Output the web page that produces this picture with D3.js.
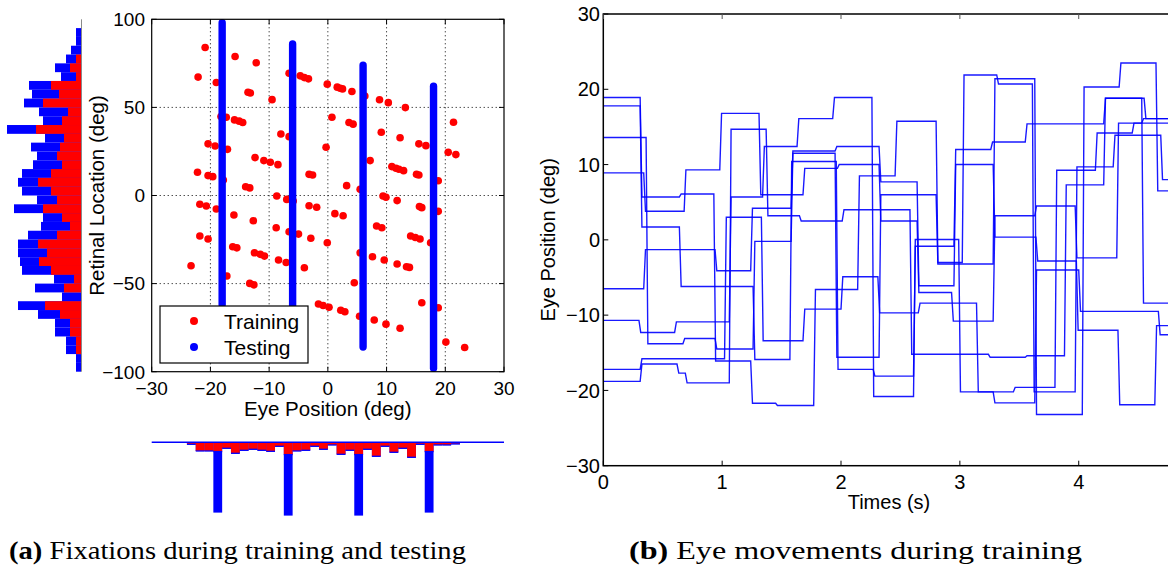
<!DOCTYPE html>
<html><head><meta charset="utf-8">
<script src="https://cdn.jsdelivr.net/npm/d3@7"></script>
<style>body{margin:0;background:#fff}svg{display:block}</style>
</head><body>
<svg id="c" width="1168" height="567"></svg>
<script>
// ---------- (a) scatter: training fixations ----------
const trainX = [-20.9,-15.8,-12.2,-22.1,-19.0,-13.6,-13.2,-9.5,-6.6,-4.7,-4.0,-3.3,-0.1,1.6,2.1,2.5,4.1,6.3,8.8,10.3,13.2,-18.2,-17.3,-15.9,-15.1,-14.5,0.7,3.6,4.3,21.4,-8.0,-6.6,9.1,12.3,-20.4,-19.2,-17.1,-0.3,15.5,16.7,20.5,21.8,-12.4,-10.9,-9.8,-8.5,7.2,10.9,11.6,12.1,12.9,-22.2,-20.4,-19.6,-17.8,-3.2,-2.6,15.1,15.5,18.8,-14.0,-13.3,3.2,5.5,-8.7,-7.0,-5.9,9.4,9.9,11.8,-21.8,-20.7,-19.0,-3.2,-1.9,15.6,16.0,18.8,1.2,2.6,-16.0,-12.7,-8.8,-6.6,-5.0,-2.9,-0.1,8.3,9.2,-21.8,-20.4,-16.2,-15.5,-12.5,-11.5,-10.8,-8.4,-7.1,-4.0,5.5,7.6,9.6,11.8,13.4,13.9,14.1,14.9,15.7,17.5,-23.3,-17.2,-13.3,-12.6,4.5,-1.6,-0.8,0.2,2.2,2.9,5.4,7.9,9.9,12.3,16.0,18.8,20.1,23.3];
const trainY = [84.0,78.9,75.3,67.2,64.1,58.6,58.2,54.4,69.4,67.9,66.9,66.2,63.2,61.5,60.9,60.5,59.0,56.5,54.3,52.7,49.9,44.8,44.4,42.9,42.2,41.4,44.4,41.4,40.5,41.6,34.9,33.4,35.9,32.8,29.3,28.1,26.2,27.4,29.3,28.3,24.5,23.2,21.5,19.8,18.9,17.5,19.8,16.4,15.5,14.9,14.1,13.2,11.3,10.7,8.8,12.0,11.6,12.0,11.6,8.4,5.0,4.3,5.6,3.5,-0.3,-2.2,-3.1,-0.3,-1.0,-2.9,-5.0,-6.0,-7.7,-5.8,-6.7,-6.3,-6.9,-9.0,-10.3,-11.5,-11.1,-14.3,-18.3,-20.6,-21.9,-24.3,-26.8,-17.3,-18.3,-23.0,-24.7,-29.1,-29.7,-32.5,-33.4,-34.4,-36.6,-38.0,-41.0,-32.5,-34.8,-36.6,-38.9,-40.4,-40.8,-23.0,-23.8,-24.7,-26.8,-39.9,-45.7,-49.9,-50.7,-49.5,-61.6,-62.4,-63.4,-65.1,-66.0,-68.5,-70.7,-73.0,-75.3,-60.9,-63.7,-83.2,-86.3];
// testing: eye positions and retinal range covered
const testEye    = [-18, -6, 6, 18];
const testTop    = [98, 86, 74, 62];
const testBottom = [-62, -74, -86, -98];
const scatterXTicks = [-30,-20,-10,0,10,20,30];
const scatterYTicks = [-100,-50,0,50,100];
const legendLabels = ["Training","Testing"];

// left histogram (retinal location, 5 deg bins from 95 down to -100)
const retBinCenters = [92.5,87.5,82.5,77.5,72.5,67.5,62.5,57.5,52.5,47.5,42.5,37.5,32.5,27.5,22.5,17.5,12.5,7.5,2.5,-2.5,-7.5,-12.5,-17.5,-22.5,-27.5,-32.5,-37.5,-42.5,-47.5,-52.5,-57.5,-62.5,-67.5,-72.5,-77.5,-82.5,-87.5,-92.5,-97.5];
const retTotal = [5,5,10,15,26,20,52,49,57,42,38,74,36,50,44,48,59,63,59,44,67,38,40,53,63,63,61,59,27,46,19,63,43,26,26,15,15,5,5];
const retTrain = [0,0,0,5,11,5,30,22,38,13,19,45,17,21,24,19,30,43,30,24,38,19,11,24,43,34,42,30,7,17,0,36,21,11,11,5,5,0,0];

// bottom histogram (eye position, 1.5 deg bins)
const eyeBinCenters = [-23.25,-21.75,-20.25,-18.75,-17.25,-15.75,-14.25,-12.75,-11.25,-9.75,-8.25,-6.75,-5.25,-3.75,-2.25,-0.75,0.75,2.25,3.75,5.25,6.75,8.25,9.75,11.25,12.75,14.25,15.75,17.25,18.75,20.25,21.75];
const eyeTrain = [2,8.7,8.7,9.3,6,11,8,7,8,9,4,12.3,8.7,8,4,7,2.7,12,8,12.3,7,14,4,10,6,15,2,9.3,2.7,2.7,1.7];
const eyeTotal = [2,8.7,8.7,70.3,6,11,8,7,8,9,4,73.3,8.7,8,4,7,2.7,12,8,73.3,7,14,4,10,6,15,2,70.3,2.7,2.7,1.7];

// ---------- (b) eye movement traces: [onset time (s), position (deg)] ----------
const traceA = [[0,18.9],[0.31,5.7],[0.64,6.1],[0.93,-16.1],[1.24,-21.7],[1.45,-22.0],[1.77,-6.6],[2.14,8.5],[2.455,15.75],[2.80,-3.0],[3.02,21.9],[3.31,20.7],[3.61,-20.2],[3.97,9.7],[4.29,13.9],[4.69,8.0]];
const traceB = [[0,17.8],[0.31,1.7],[0.64,-6.2],[1.26,-15.9],[1.57,10.4],[1.96,-17.2],[2.27,-18.1],[2.61,-0.85],[2.95,12.0],[3.26,13.0],[3.55,15.4],[4.21,18.8],[4.55,16.1]];
const traceC = [[0,13.6],[0.36,-13.8],[0.67,-13.1],[0.94,-14.5],[1.26,-0.2],[1.58,11.5],[1.95,-15.6],[2.32,6.0],[2.80,-3.2],[3.28,21.4],[3.63,-23.2],[4.03,20.3],[4.34,23.5],[4.65,6.5]];
const traceD = [[0,8.9],[0.34,3.8],[0.68,9.3],[0.98,16.8],[1.31,6.0],[1.68,9.5],[1.97,10.0],[2.32,2.5],[2.64,-7.0],[2.93,-10.8],[3.28,3.2],[3.63,4.5],[3.97,-2.4],[4.32,15.5],[4.53,16.1]];
const traceE = [[0,-6.5],[0.34,-1.3],[0.94,-4.1],[1.24,4.2],[1.58,11.8],[1.95,12.4],[2.32,7.7],[2.64,-6.1],[2.95,10.0],[3.28,0.36],[3.64,-2.8],[3.98,-12.0],[4.33,-21.9],[4.64,-11.4]];
const traceF = [[0,-10.7],[0.30,-12.3],[0.60,-10.9],[1.06,5.7],[1.34,12.4],[1.63,16.1],[1.93,18.9],[2.26,-20.8],[2.61,0.05],[2.99,-20.2],[3.28,-21.65],[3.63,-4.0],[4.0,-9.5],[4.67,-12.6]];
const traceG = [[0,-17.2],[0.31,-15.8],[1.02,3.0],[1.33,-13.4],[1.68,-9.2],[2.0,-4.9],[2.31,-9.7],[2.65,-8.4],[3.14,-20.2],[3.45,-19.6],[3.80,9.25],[4.14,14.2],[4.45,15.5]];
const traceH = [[0,-18.8],[0.31,-16.5],[0.62,-17.7],[0.69,-19.0],[1.06,14.7],[1.37,3.2],[1.65,2.5],[2.01,4.0],[2.58,-15.2],[3.24,-15.6],[3.55,-15.4],[3.88,7.3],[4.21,18.8],[4.53,-8.4]];
const traces = [traceA,traceB,traceC,traceD,traceE,traceF,traceG,traceH];
const timeTicks = [0,1,2,3,4];
const eyeTicks = [-30,-20,-10,0,10,20,30];

// ====================================================================
const svg = d3.select('#c');
const SANS = "'Liberation Sans', Arial, Helvetica, sans-serif";
const SERIF = "'Liberation Serif', 'DejaVu Serif', serif";
const fmt = v => (v < 0 ? '\u2212' + Math.abs(v) : String(v));

// ---- (a) scatter ----
const sx = d3.scaleLinear().domain([-30,30]).range([151.7,504]);
const sy = d3.scaleLinear().domain([-100,100]).range([371.7,19.3]);
const gA = svg.append('g');

// grid
gA.selectAll('line.gx').data(scatterXTicks.slice(1,-1)).join('line')
  .attr('x1',d=>sx(d)).attr('x2',d=>sx(d)).attr('y1',sy(100)).attr('y2',sy(-100))
  .attr('stroke','#000').attr('stroke-width',1).attr('stroke-dasharray','1,3');
gA.selectAll('line.gy').data(scatterYTicks.slice(1,-1)).join('line')
  .attr('y1',d=>sy(d)).attr('y2',d=>sy(d)).attr('x1',sx(-30)).attr('x2',sx(30))
  .attr('stroke','#000').attr('stroke-width',1).attr('stroke-dasharray','1,3');

// training points
gA.selectAll('circle.tr').data(trainX.map((x,i)=>[x,trainY[i]])).join('circle')
  .attr('cx',d=>sx(d[0])).attr('cy',d=>sy(d[1])).attr('r',3.8).attr('fill','#ff0000');
// testing columns
gA.selectAll('line.te').data(testEye).join('line')
  .attr('x1',d=>sx(d)).attr('x2',d=>sx(d))
  .attr('y1',(d,i)=>sy(testTop[i])).attr('y2',(d,i)=>sy(testBottom[i]))
  .attr('stroke','#0000ff').attr('stroke-width',7.4).attr('stroke-linecap','round');

// frame + ticks
gA.append('rect').attr('x',sx(-30)).attr('y',sy(100)).attr('width',sx(30)-sx(-30)).attr('height',sy(-100)-sy(100))
  .attr('fill','none').attr('stroke','#000').attr('stroke-width',1.2);
const tl = 5;
scatterXTicks.forEach(v=>{
  gA.append('line').attr('x1',sx(v)).attr('x2',sx(v)).attr('y1',sy(-100)).attr('y2',sy(-100)-tl).attr('stroke','#000');
  gA.append('line').attr('x1',sx(v)).attr('x2',sx(v)).attr('y1',sy(100)).attr('y2',sy(100)+tl).attr('stroke','#000');
  gA.append('text').attr('x',sx(v)).attr('y',395).attr('text-anchor','middle')
    .attr('font-family',SANS).attr('font-size',19).text(fmt(v));
});
scatterYTicks.forEach(v=>{
  gA.append('line').attr('x1',sx(-30)).attr('x2',sx(-30)+tl).attr('y1',sy(v)).attr('y2',sy(v)).attr('stroke','#000');
  gA.append('line').attr('x1',sx(30)).attr('x2',sx(30)-tl).attr('y1',sy(v)).attr('y2',sy(v)).attr('stroke','#000');
  gA.append('text').attr('x',145).attr('y',sy(v)).attr('dy','0.36em').attr('text-anchor','end')
    .attr('font-family',SANS).attr('font-size',19).text(fmt(v));
});
gA.append('text').attr('x',sx(0)).attr('y',416).attr('text-anchor','middle')
  .attr('font-family',SANS).attr('font-size',20.5).text('Eye Position (deg)');
gA.append('text').attr('transform',`translate(104,${sy(0)}) rotate(-90)`).attr('text-anchor','middle')
  .attr('font-family',SANS).attr('font-size',20.5).text('Retinal Location (deg)');

// legend
const lg = gA.append('g');
lg.append('rect').attr('x',160).attr('y',306).attr('width',148).attr('height',57)
  .attr('fill','#fff').attr('stroke','#000').attr('stroke-width',1.2);
const legCol = ['#ff0000','#0000ff'];
legendLabels.forEach((t,i)=>{
  lg.append('circle').attr('cx',194).attr('cy',321+i*26).attr('r',4).attr('fill',legCol[i]);
  lg.append('text').attr('x',224).attr('y',328.5+i*26).attr('font-family',SANS).attr('font-size',21).text(t);
});

// left histogram
const hx = d3.scaleLinear().domain([0,81]).range([81,0]);
const gL = svg.append('g');
gL.selectAll('rect.b').data(retBinCenters).join('rect')
  .attr('x',(d,i)=>hx(retTotal[i])).attr('width',(d,i)=>hx(0)-hx(retTotal[i]))
  .attr('y',d=>sy(d+2.5)).attr('height',d=>sy(d-2.5)-sy(d+2.5)).attr('fill','#0000ff');
gL.selectAll('rect.r').data(retBinCenters).join('rect')
  .attr('x',(d,i)=>hx(retTrain[i])).attr('width',(d,i)=>hx(0)-hx(retTrain[i]))
  .attr('y',d=>sy(d+2.5)).attr('height',d=>sy(d-2.5)-sy(d+2.5)).attr('fill','#ff0000');
gL.append('line').attr('x1',hx(0)+0.5).attr('x2',hx(0)+0.5).attr('y1',sy(100)).attr('y2',sy(-100))
  .attr('stroke','#8a8a8a').attr('stroke-width',1);

// bottom histogram
const hy = d3.scaleLinear().domain([0,80]).range([442.3,522.3]);
const gB = svg.append('g');
gB.selectAll('rect.b').data(eyeBinCenters).join('rect')
  .attr('x',d=>sx(d-0.75)).attr('width',d=>sx(d+0.75)-sx(d-0.75))
  .attr('y',hy(0)).attr('height',(d,i)=>hy(eyeTotal[i])-hy(0)).attr('fill','#0000ff');
gB.selectAll('rect.r').data(eyeBinCenters).join('rect')
  .attr('x',d=>sx(d-0.75)).attr('width',d=>sx(d+0.75)-sx(d-0.75))
  .attr('y',hy(0)).attr('height',(d,i)=>hy(eyeTrain[i])-hy(0)).attr('fill','#ff0000');
gB.selectAll('line.e').data(eyeBinCenters).join('line')
  .attr('x1',d=>sx(d-0.75)).attr('x2',d=>sx(d+0.75))
  .attr('y1',(d,i)=>hy(eyeTrain[i])).attr('y2',(d,i)=>hy(eyeTrain[i]))
  .attr('stroke','#0000ff').attr('stroke-width',1.3);
gB.append('line').attr('x1',sx(-30)).attr('x2',sx(30)).attr('y1',hy(0)).attr('y2',hy(0))
  .attr('stroke','#0000ff').attr('stroke-width',1.5);

// ---- (b) eye movements ----
const tx = d3.scaleLinear().domain([0,4.81]).range([603.3,1175]);
const ey = d3.scaleLinear().domain([-30,30]).range([465.7,14]);
const gR = svg.append('g');
svg.append('defs').append('clipPath').attr('id','clipR').append('rect')
  .attr('x',tx(0)).attr('y',ey(30)).attr('width',tx(4.81)-tx(0)).attr('height',ey(-30)-ey(30));
const sacc = 0.015;
const line = d3.line().x(d=>tx(d[0])).y(d=>ey(d[1]));
traces.forEach(tr=>{
  const pts = [[0,tr[0][1]]];
  for(let i=1;i<tr.length;i++){ pts.push([tr[i][0],tr[i-1][1]]); pts.push([tr[i][0]+sacc,tr[i][1]]); }
  pts.push([4.81,tr[tr.length-1][1]]);
  gR.append('path').attr('d',line(pts)).attr('fill','none').attr('stroke','#0000ff')
    .attr('stroke-width',1.4).attr('stroke-opacity',0.9).attr('clip-path','url(#clipR)');
});
gR.append('rect').attr('x',tx(0)).attr('y',ey(30)).attr('width',tx(4.81)-tx(0)).attr('height',ey(-30)-ey(30))
  .attr('fill','none').attr('stroke','#000').attr('stroke-width',1.5);
timeTicks.forEach(v=>{
  gR.append('line').attr('x1',tx(v)).attr('x2',tx(v)).attr('y1',ey(-30)).attr('y2',ey(-30)-5).attr('stroke','#000');
  gR.append('line').attr('x1',tx(v)).attr('x2',tx(v)).attr('y1',ey(30)).attr('y2',ey(30)+5).attr('stroke','#555');
  gR.append('text').attr('x',tx(v)).attr('y',489).attr('text-anchor','middle')
    .attr('font-family',SANS).attr('font-size',20).text(fmt(v));
});
eyeTicks.forEach(v=>{
  gR.append('line').attr('x1',tx(0)).attr('x2',tx(0)+5).attr('y1',ey(v)).attr('y2',ey(v)).attr('stroke','#000');
  gR.append('text').attr('x',600).attr('y',ey(v)).attr('dy','0.36em').attr('text-anchor','end')
    .attr('font-family',SANS).attr('font-size',20).text(fmt(v));
});
gR.append('text').attr('x',889).attr('y',509).attr('text-anchor','middle')
  .attr('font-family',SANS).attr('font-size',20).text('Times (s)');
gR.append('text').attr('transform',`translate(555,${ey(0)}) rotate(-90)`).attr('text-anchor','middle')
  .attr('font-family',SANS).attr('font-size',20).text('Eye Position (deg)');

// ---- captions ----
function caption(x, w, tag, rest){
  const t = svg.append('text').attr('x',x).attr('y',558.5).attr('font-family',SERIF).attr('font-size',26)
    .attr('textLength',w).attr('lengthAdjust','spacingAndGlyphs');
  t.append('tspan').attr('font-weight','bold').text(tag);
  t.append('tspan').text(' ' + rest);
}
caption(9, 457, '(a)', 'Fixations during training and testing');
caption(629, 453, '(b)', 'Eye movements during training');
</script>
</body></html>
